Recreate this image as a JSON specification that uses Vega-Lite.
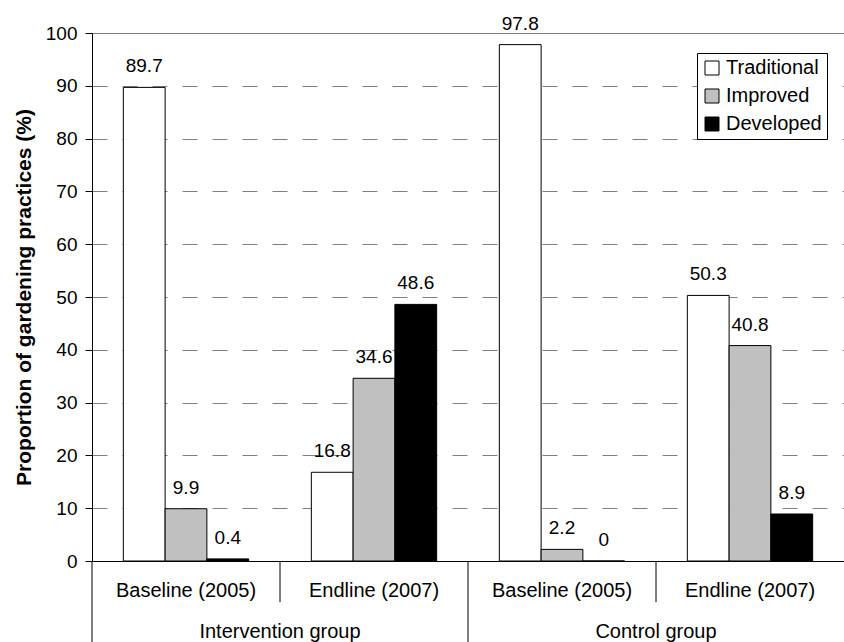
{
  "$schema": "https://vega.github.io/schema/vega-lite/v6.json",
  "autosize": "none",
  "width": 752,
  "height": 528,
  "padding": {"left": 92, "top": 33, "right": 0, "bottom": 81},
  "background": "white",
  "config": {
    "font": "Liberation Sans",
    "view": {"stroke": null}
  },
  "datasets": {
    "bars": [
      {"cell": "Intervention group|Baseline (2005)", "type": "Traditional", "value": 89.7},
      {"cell": "Intervention group|Baseline (2005)", "type": "Improved", "value": 9.9},
      {"cell": "Intervention group|Baseline (2005)", "type": "Developed", "value": 0.4},
      {"cell": "Intervention group|Endline (2007)", "type": "Traditional", "value": 16.8},
      {"cell": "Intervention group|Endline (2007)", "type": "Improved", "value": 34.6},
      {"cell": "Intervention group|Endline (2007)", "type": "Developed", "value": 48.6},
      {"cell": "Control group|Baseline (2005)", "type": "Traditional", "value": 97.8},
      {"cell": "Control group|Baseline (2005)", "type": "Improved", "value": 2.2},
      {"cell": "Control group|Baseline (2005)", "type": "Developed", "value": 0},
      {"cell": "Control group|Endline (2007)", "type": "Traditional", "value": 50.3},
      {"cell": "Control group|Endline (2007)", "type": "Improved", "value": 40.8},
      {"cell": "Control group|Endline (2007)", "type": "Developed", "value": 8.9}
    ],
    "groups": [
      {"cell": "Intervention group|Baseline (2005)", "group": "Intervention group"},
      {"cell": "Control group|Baseline (2005)", "group": "Control group"}
    ],
    "periods": [
      {"cell": "Intervention group|Endline (2007)"},
      {"cell": "Control group|Endline (2007)"}
    ]
  },
  "layer": [
    {
      "data": {"name": "bars"},
      "mark": {"type": "bar", "stroke": "black", "strokeWidth": 1},
      "encoding": {
        "x": {
          "field": "cell", "type": "nominal",
          "scale": {"domain": ["Intervention group|Baseline (2005)", "Intervention group|Endline (2007)", "Control group|Baseline (2005)", "Control group|Endline (2007)"], "paddingInner": 0, "paddingOuter": 0},
          "axis": {
            "title": null, "labelAngle": 0, "ticks": false, "grid": false,
            "domainColor": "black", "domainWidth": 1,
            "labelExpr": "split(datum.label, '|')[1]",
            "labelFontSize": 20, "labelColor": "black", "labelPadding": 19
          }
        },
        "xOffset": {
          "field": "type", "type": "nominal",
          "scale": {"domain": ["Traditional", "Improved", "Developed"], "paddingInner": 0, "paddingOuter": 0.75}
        },
        "y": {
          "field": "value", "type": "quantitative",
          "scale": {"domain": [0, 100], "nice": false},
          "axis": {
            "title": "Proportion of gardening practices (%)",
            "titleFontSize": 21, "titleFontWeight": "bold", "titleColor": "black", "titlePadding": 11,
            "values": [0, 10, 20, 30, 40, 50, 60, 70, 80, 90, 100],
            "labelFontSize": 19, "labelColor": "black", "labelPadding": 8,
            "tickSize": 7, "tickColor": "black",
            "domainColor": "black",
            "grid": true, "gridColor": "#808080",
            "gridDash": {"condition": {"test": "datum.value === 100", "value": []}, "value": [15, 15]}
          }
        },
        "color": {
          "field": "type", "type": "nominal",
          "scale": {"domain": ["Traditional", "Improved", "Developed"], "range": ["#ffffff", "#c0c0c0", "#000000"]},
          "legend": {
            "title": null, "orient": "none", "legendX": 605, "legendY": 20,
            "direction": "vertical",
            "strokeColor": "black", "fillColor": "white", "padding": 5,
            "symbolType": "square", "symbolSize": 196, "symbolStrokeColor": "black", "symbolStrokeWidth": 1,
            "labelFontSize": 20, "labelColor": "black", "labelOffset": 4, "rowPadding": 8
          }
        }
      }
    },
    {
      "data": {"name": "bars"},
      "mark": {"type": "text", "fontSize": 19, "color": "black", "dy": -21, "baseline": "middle"},
      "encoding": {
        "x": {"field": "cell", "type": "nominal"},
        "xOffset": {"field": "type", "type": "nominal"},
        "y": {"field": "value", "type": "quantitative"},
        "text": {"field": "value", "type": "quantitative"}
      }
    },
    {
      "data": {"name": "groups"},
      "mark": {"type": "text", "fontSize": 20, "color": "black", "baseline": "middle"},
      "encoding": {
        "x": {"field": "cell", "type": "nominal", "bandPosition": 1},
        "y": {"datum": -13.5, "type": "quantitative"},
        "text": {"field": "group"}
      }
    },
    {
      "data": {"name": "groups"},
      "mark": {"type": "rule", "color": "black", "strokeWidth": 1},
      "encoding": {
        "x": {"field": "cell", "type": "nominal", "bandPosition": 0},
        "y": {"datum": 0, "type": "quantitative"},
        "y2": {"datum": -15.6}
      }
    },
    {
      "data": {"name": "periods"},
      "mark": {"type": "rule", "color": "black", "strokeWidth": 1},
      "encoding": {
        "x": {"field": "cell", "type": "nominal", "bandPosition": 0},
        "y": {"datum": 0, "type": "quantitative"},
        "y2": {"datum": -7.8}
      }
    }
  ]
}
